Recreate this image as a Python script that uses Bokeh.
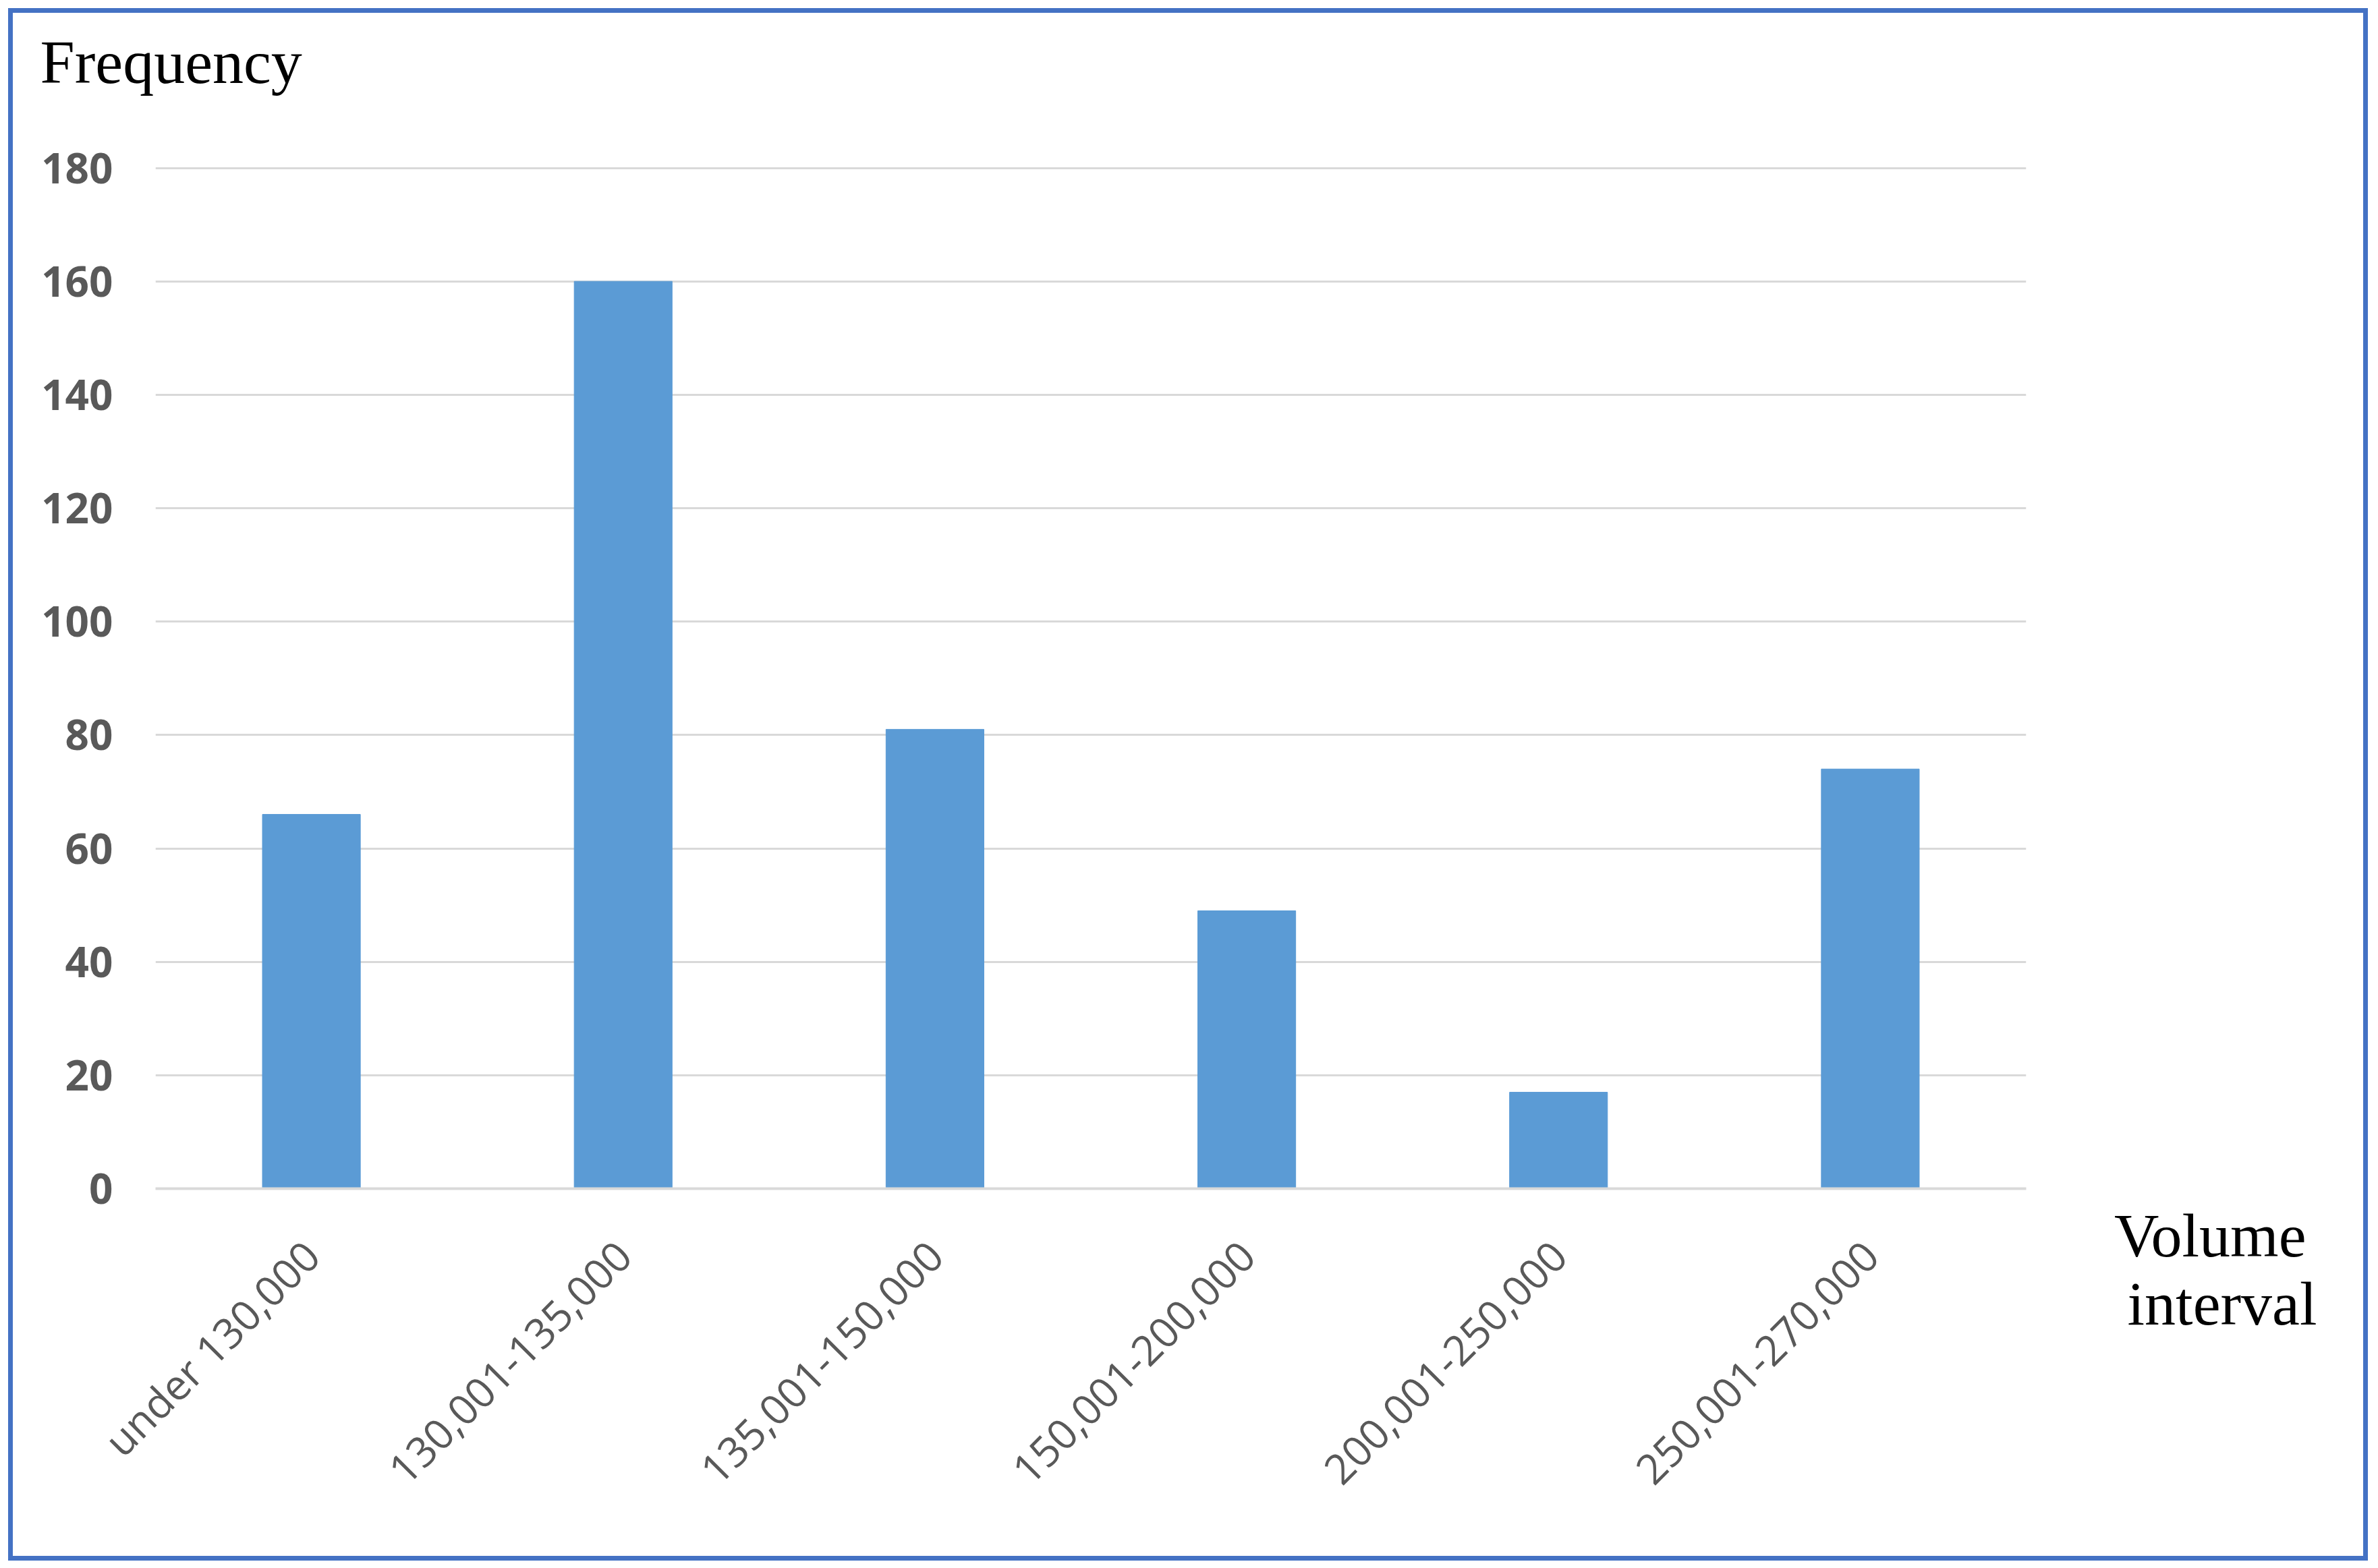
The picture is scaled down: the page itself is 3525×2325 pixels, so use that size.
import math
from bokeh.plotting import figure
from bokeh.models import Range1d, FactorRange, FixedTicker, ColumnDataSource, Title
from bokeh.embed import file_html
from bokeh.resources import INLINE

# ---- data ----
categories = ["under 130,000", "130,001-135,000", "135,001-150,000",
              "150,001-200,000", "200,001-250,000", "250,001-270,000"]
frequency = [66, 160, 81, 49, 17, 74]
y_ticks = [0, 20, 40, 60, 80, 100, 120, 140, 160, 180]
y_title = "Frequency"
x_title_lines = ["Volume", "interval"]

BAR = "#5B9BD5"
GRID = "#D9D9D9"
TXT = "#595959"
BORDER = "#4472C4"

W, H = 3484, 2283
FL, FT = 211, 222          # frame left / top offsets in canvas
FW, FH = 2773, 1516        # frame size

src = ColumnDataSource(dict(cat=categories, val=frequency))

p = figure(x_range=FactorRange(*categories, range_padding=0),
           y_range=Range1d(0, 180.3),
           frame_width=FW, frame_height=FH,
           min_border_left=FL, min_border_top=FT,
           min_border_right=W - FL - FW, min_border_bottom=H - FT - FH,
           output_backend="svg", toolbar_location=None)
p.styles = {"border": f"7px solid {BORDER}", "margin-left": "12px", "margin-top": "12px"}

p.vbar(x="cat", top="val", width=0.314, source=src,
       fill_color=BAR, line_color=BAR, line_width=1)

p.outline_line_color = None
p.background_fill_color = "white"
p.border_fill_color = "white"

# grid
p.xgrid.grid_line_color = None
p.ygrid.grid_line_color = GRID
p.ygrid.grid_line_width = 3
p.ygrid.ticker = FixedTicker(ticks=y_ticks)

# y axis
p.yaxis.ticker = FixedTicker(ticks=y_ticks)
p.yaxis.axis_line_color = None
p.yaxis.major_tick_line_color = None
p.yaxis.minor_tick_line_color = None
p.yaxis.major_tick_out = 0
p.yaxis.major_tick_in = 0
p.yaxis.major_label_standoff = 63
p.yaxis.major_label_text_font = "Open Sans"
p.yaxis.major_label_text_font_style = "bold"
p.yaxis.major_label_text_font_size = "62px"
p.yaxis.major_label_text_color = TXT

# x axis
p.xaxis.axis_line_color = GRID
p.xaxis.axis_line_width = 4
p.xaxis.major_tick_line_color = None
p.xaxis.minor_tick_line_color = None
p.xaxis.major_tick_out = 0
p.xaxis.major_tick_in = 0
p.xaxis.major_label_standoff = 88
p.xaxis.major_label_orientation = math.pi / 4
p.xaxis.major_label_text_font = "Open Sans"
p.xaxis.major_label_text_font_size = "62px"
p.xaxis.major_label_text_color = TXT


def serif_title(text, align, offset, standoff, size="92px"):
    return Title(text=text, align=align, offset=offset, standoff=standoff,
                 vertical_align="top", text_font="Liberation Serif",
                 text_font_size=size, text_font_style="normal",
                 text_color="black")


# top: spacer then the y title
p.add_layout(serif_title(" ", "left", 0, 68, size="10px"), "above")
p.add_layout(serif_title(y_title, "left", -171, 42), "above")

# bottom-right: x title lines (below the x axis, pulled up)
p.add_layout(serif_title(x_title_lines[0], "right", -415, -940), "below")
p.add_layout(serif_title(x_title_lines[1], "right", -431, -738), "below")

open("out.html", "w").write(file_html(p, INLINE))
